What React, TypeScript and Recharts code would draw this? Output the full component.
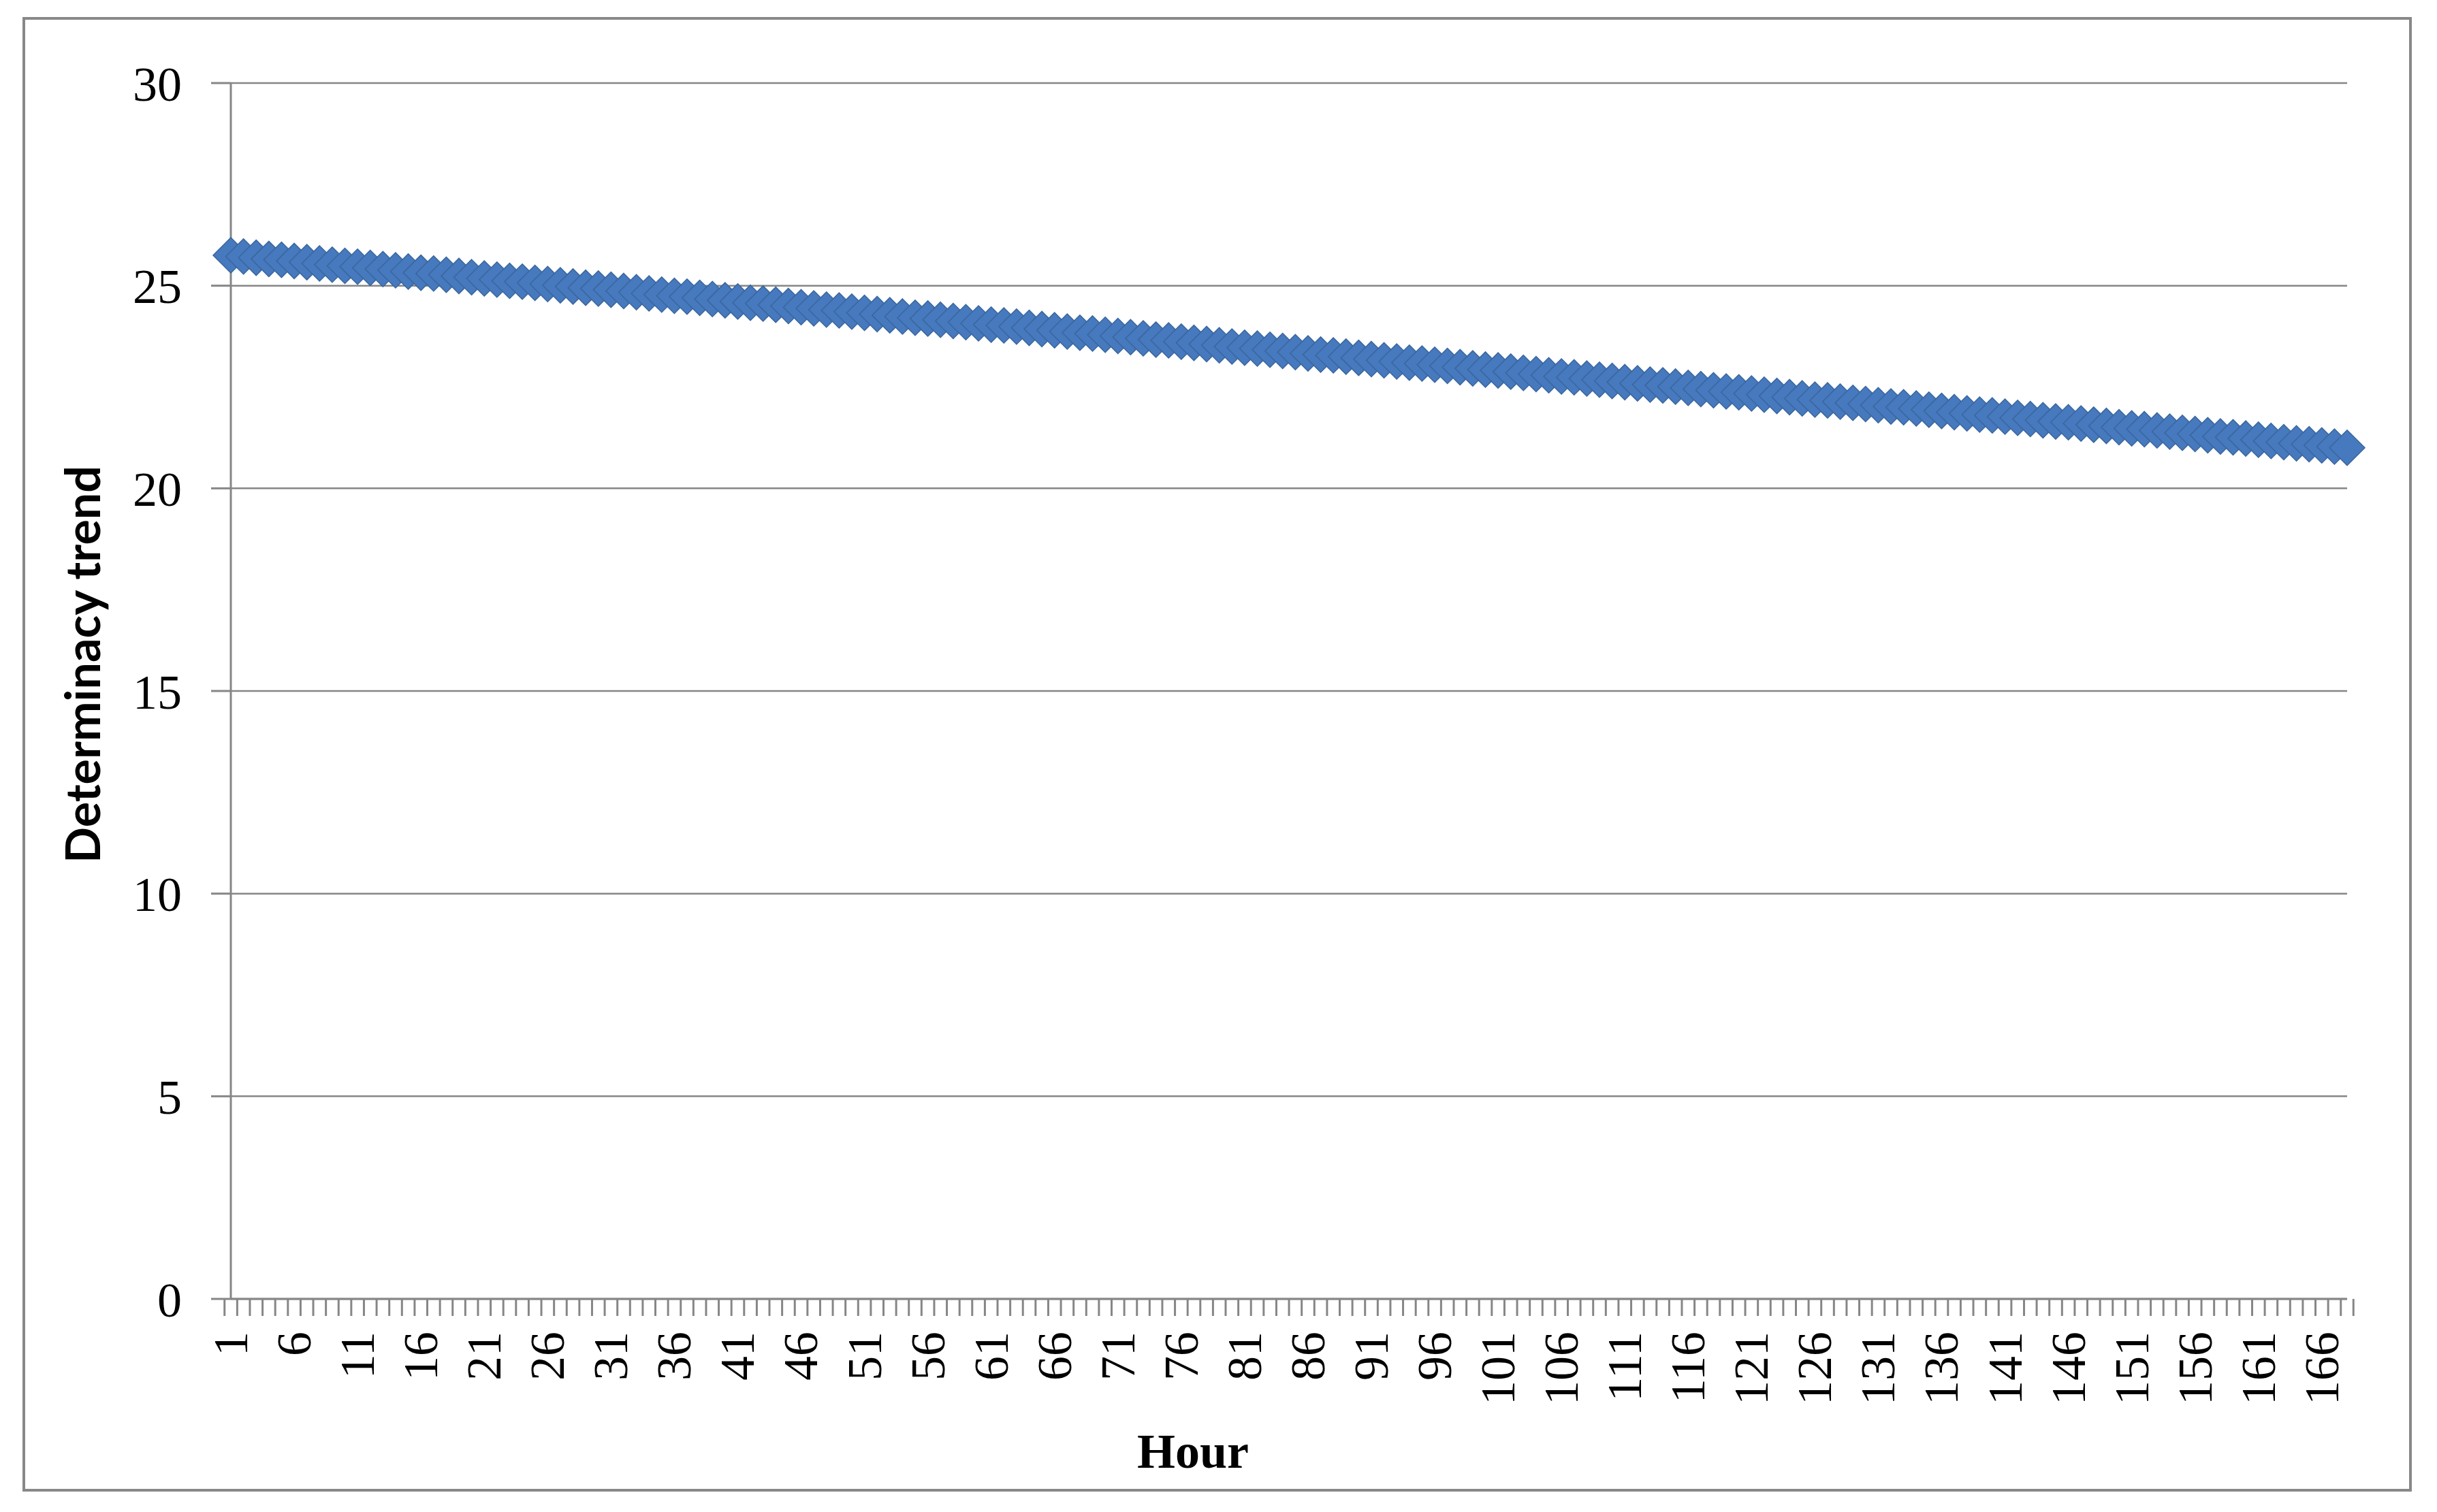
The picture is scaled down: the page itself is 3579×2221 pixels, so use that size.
import React from 'react';
import { LineChart, Line, XAxis, YAxis, CartesianGrid } from 'recharts';

// Determinacy trend, hour 1 to hour 168
const trendValues = [
  25.75, 25.72, 25.69, 25.66, 25.64, 25.61, 25.58, 25.55, 25.52, 25.49,
  25.47, 25.44, 25.41, 25.38, 25.35, 25.32, 25.30, 25.27, 25.24, 25.21,
  25.18, 25.15, 25.12, 25.10, 25.07, 25.04, 25.01, 24.98, 24.95, 24.93,
  24.90, 24.87, 24.84, 24.81, 24.78, 24.75, 24.73, 24.70, 24.67, 24.64,
  24.61, 24.58, 24.56, 24.53, 24.50, 24.47, 24.44, 24.41, 24.39, 24.36,
  24.33, 24.30, 24.27, 24.24, 24.21, 24.19, 24.16, 24.13, 24.10, 24.07,
  24.04, 24.02, 23.99, 23.96, 23.93, 23.90, 23.87, 23.84, 23.82, 23.79,
  23.76, 23.73, 23.70, 23.67, 23.65, 23.62, 23.59, 23.56, 23.53, 23.50,
  23.47, 23.45, 23.42, 23.39, 23.36, 23.33, 23.30, 23.28, 23.25, 23.22,
  23.19, 23.16, 23.13, 23.10, 23.08, 23.05, 23.02, 22.99, 22.96, 22.93,
  22.91, 22.88, 22.85, 22.82, 22.79, 22.76, 22.74, 22.71, 22.68, 22.65,
  22.62, 22.59, 22.56, 22.54, 22.51, 22.48, 22.45, 22.42, 22.39, 22.37,
  22.34, 22.31, 22.28, 22.25, 22.22, 22.19, 22.17, 22.14, 22.11, 22.08,
  22.05, 22.02, 22.00, 21.97, 21.94, 21.91, 21.88, 21.85, 21.82, 21.80,
  21.77, 21.74, 21.71, 21.68, 21.65, 21.63, 21.60, 21.57, 21.54, 21.51,
  21.48, 21.46, 21.43, 21.40, 21.37, 21.34, 21.31, 21.28, 21.26, 21.23,
  21.20, 21.17, 21.14, 21.11, 21.09, 21.06, 21.03, 21.00,
];

// hour categories, one per value
const hours = trendValues.map((_, i) => String(i + 1));

const yTicks = [0, 5, 10, 15, 20, 25, 30];

const chartData = hours.map((hour, i) => ({ hour, trend: trendValues[i] }));

const W = 3579;
const H = 2221;
const PLOT_LEFT = 339;
const PLOT_RIGHT = 3447;
const BAND = (PLOT_RIGHT - PLOT_LEFT) / hours.length;

const AXIS = '#868686';
const MARKER = '#4679BD';
const SERIF = '"Liberation Serif", "Times New Roman", serif';

function HourTick(props: any) {
  const { x, y, payload, index } = props;
  const left = x - BAND / 2;
  const tx = x + 24;
  const ty = y + 48;
  return (
    <g>
      <line x1={left} y1={y} x2={left} y2={y + 25} stroke={AXIS} strokeWidth={3} />
      {index === hours.length - 1 && (
        <line x1={x + BAND / 2} y1={y} x2={x + BAND / 2} y2={y + 25} stroke={AXIS} strokeWidth={3} />
      )}
      {index % 5 === 0 && (
        <text
          x={tx}
          y={ty}
          transform={`rotate(-90 ${tx} ${ty})`}
          textAnchor="end"
          fontFamily={SERIF}
          fontSize={72}
          fill="#000"
        >
          {payload.value}
        </text>
      )}
    </g>
  );
}

function Diamond(props: any) {
  const { cx, cy, index } = props;
  const r = 26;
  const pts = `${cx},${cy - r} ${cx + r},${cy} ${cx},${cy + r} ${cx - r},${cy}`;
  return <polygon key={`d-${index}`} points={pts} fill={MARKER} stroke="#3A669E" strokeWidth={1.5} />;
}

export default function App() {
  return (
    <div style={{ position: 'absolute', left: 0, top: 0, width: W, height: H, background: '#fff' }}>
      <LineChart
        width={W}
        height={H}
        data={chartData}
        margin={{ top: 122, right: W - PLOT_RIGHT, bottom: 163, left: PLOT_LEFT - 120 }}
      >
        <CartesianGrid vertical={false} stroke={AXIS} strokeWidth={2.5} />
        <XAxis
          dataKey="hour"
          interval={0}
          height={150}
          tickSize={0}
          tickMargin={0}
          tickLine={false}
          axisLine={{ stroke: AXIS, strokeWidth: 3 }}
          tick={<HourTick />}
        />
        <YAxis
          width={120}
          domain={[0, 30]}
          ticks={yTicks}
          interval={0}
          tickSize={29}
          tickMargin={43}
          axisLine={{ stroke: AXIS, strokeWidth: 3 }}
          tickLine={{ stroke: AXIS, strokeWidth: 3 }}
          tick={{ fontFamily: SERIF, fontSize: 72, fill: '#000' }}
        />
        <Line
          type="linear"
          dataKey="trend"
          stroke={MARKER}
          strokeWidth={6}
          dot={(p: any) => <Diamond key={`dot-${p.index}`} {...p} />}
          activeDot={false}
          isAnimationActive={false}
        />
      </LineChart>
      <svg
        width={W}
        height={H}
        style={{ position: 'absolute', left: 0, top: 0, pointerEvents: 'none' }}
      >
        <rect x={35} y={27} width={3505} height={2162} fill="none" stroke="#888" strokeWidth={4} />
        <text
          x={147}
          y={976}
          transform="rotate(-90 147 976)"
          textAnchor="middle"
          fontFamily="Lato, 'Open Sans', sans-serif"
          fontWeight={700}
          fontSize={70}
          fill="#000"
        >
          Determinacy trend
        </text>
        <text
          x={1752}
          y={2156}
          textAnchor="middle"
          fontFamily={SERIF}
          fontWeight={700}
          fontSize={72}
          fill="#000"
        >
          Hour
        </text>
      </svg>
    </div>
  );
}
